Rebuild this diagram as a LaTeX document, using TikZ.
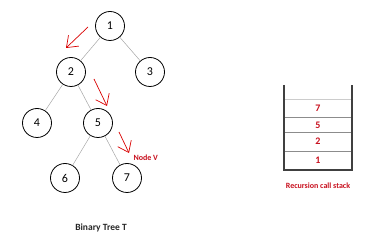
\documentclass[tikz,border=0pt]{standalone}
\usepackage{fontspec}
\setmainfont{Carlito}
\usetikzlibrary{arrows.meta}
\definecolor{stackred}{RGB}{200,16,30}
\begin{document}
\begin{tikzpicture}[x=1pt,y=-1pt,
  treenode/.style={circle,draw=black,line width=0.8pt,minimum size=29pt,inner sep=0pt,font=\fontsize{12}{13}\selectfont},
  edge/.style={draw=black!35,line width=0.5pt},
  hint/.style={draw=red!85!black,line width=0.7pt,-{Straight Barb[length=10pt,width=15pt,line width=0.7pt]}},
  redlabel/.style={text=stackred,font=\bfseries\fontsize{8}{9}\selectfont},
  stacknum/.style={text=stackred,font=\bfseries\fontsize{10}{11}\selectfont},
  wall/.style={draw=black!75,line width=1.1pt},
  shelf/.style={draw=black!45,line width=0.5pt}]
\useasboundingbox (0,0) rectangle (370,240);
% tree
\node[treenode] (n1) at (110,26) {1};
\node[treenode] (n2) at (71,72) {2};
\node[treenode] (n3) at (150,72) {3};
\node[treenode] (n4) at (37,123) {4};
\node[treenode] (n5) at (98,123) {5};
\node[treenode] (n6) at (65,178) {6};
\node[treenode] (n7) at (127,178) {7};
\draw[edge] (n1) -- (n2);
\draw[edge] (n1) -- (n3);
\draw[edge] (n2) -- (n4);
\draw[edge] (n2) -- (n5);
\draw[edge] (n5) -- (n6);
\draw[edge] (n5) -- (n7);
% traversal hints
\coordinate (a1s) at (88,27); \coordinate (a1e) at (66,48);
\coordinate (a2s) at (94,79); \coordinate (a2e) at (107,106);
\coordinate (a3s) at (119,132); \coordinate (a3e) at (129,153);
\draw[hint] (a1s) -- (a1e);
\draw[hint] (a2s) -- (a2e);
\draw[hint] (a3s) -- (a3e);
\node[redlabel,anchor=west] (nv) at (130,158) {Node V};
\node[font=\bfseries\fontsize{9.5}{11}\selectfont,text=black!85] (cap1) at (101,228) {Binary Tree T};
% call stack
\coordinate (tl) at (284,85); \coordinate (bl) at (284,170);
\coordinate (tr) at (352,85); \coordinate (br) at (352,170);
\draw[draw=black!20,line width=0.8pt] (284,99) -- (352,99);
\draw[shelf] (284,117) -- (352,117);
\draw[shelf] (284,132) -- (352,132);
\draw[shelf] (284,151) -- (352,151);
\draw[wall] (tl) -- (bl) -- (br) -- (tr);
\node[stacknum] (s7) at (318,108) {7};
\node[stacknum] (s5) at (318,125) {5};
\node[stacknum] (s2) at (318,141) {2};
\node[stacknum] (s1) at (318,160) {1};
\node[redlabel] (cap2) at (318,186) {Recursion call stack};
\end{tikzpicture}
\end{document}
